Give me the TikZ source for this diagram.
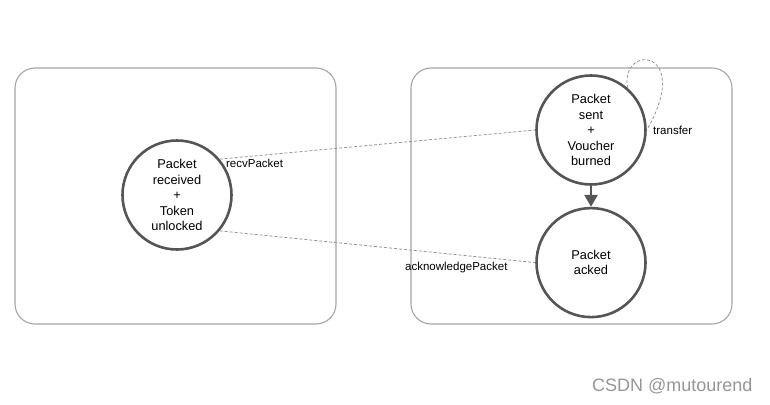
\documentclass[tikz,border=0pt]{standalone}
\usepackage{fontspec}
\setmainfont{Liberation Sans}
\usetikzlibrary{arrows.meta,positioning}

\definecolor{rim}{RGB}{85,85,85}
\definecolor{frame}{RGB}{165,165,165}
\definecolor{hint}{RGB}{150,150,150}

\tikzset{
  chain/.style={draw=frame, line width=1.1pt, rounded corners=20pt,
    minimum width=321pt, minimum height=256pt, inner sep=0pt},
  state/.style={circle, draw=rim, line width=2.6pt, minimum size=109pt,
    inner sep=0pt, align=center, font=\fontsize{12.8}{15.5}\selectfont},
  call/.style={draw=hint, line width=0.8pt, dash pattern=on 3pt off 2pt},
  tag/.style={font=\fontsize{11.5}{13}\selectfont, inner sep=2pt},
}

\begin{document}
\begin{tikzpicture}[x=1pt, y=-1pt]
    \useasboundingbox (0,0) rectangle (770,404);
    \node[chain] (source chain) at (175.5,196) {};
    \node[chain] (sink chain) at (571.5,196) {};
    \node[state] (received) at (177,195)
      {Packet\\received\\+\\Token\\unlocked};
    \node[state] (sent) at (591,130)
      {Packet\\sent\\+\\Voucher\\burned};
    \node[state] (acked) [below=21pt of sent] {Packet\\acked};
    \draw[rim, line width=2.6pt, -{Triangle[length=12pt,width=13pt]}]
      (sent) -- (acked);
    \draw[call] (received.40) -- (sent.west)
      node[tag, at start, anchor=west, xshift=4pt, yshift=-4pt] {recvPacket};
    \draw[call] (received.-40) -- (acked.west)
      node[tag, pos=0.75, below=5pt] {acknowledgePacket};
    \draw[call] (sent.49) .. controls +(-8,-45) and +(47,-82) .. (sent.east)
      node[tag, at end, anchor=west, xshift=4pt] {transfer};
    \node[text=hint, font=\fontsize{18}{20}\selectfont, anchor=east]
      (mark) at (756,386) {CSDN @mutourend};
\end{tikzpicture}
\end{document}
